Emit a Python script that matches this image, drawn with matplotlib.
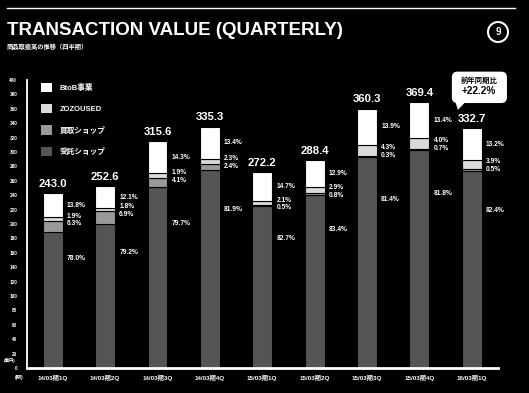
import numpy as np
import matplotlib

matplotlib.use("Agg")

import matplotlib.pyplot as plt  # noqa: E402
from matplotlib.patches import Patch, FancyBboxPatch, Polygon, Ellipse  # noqa: E402
from matplotlib.lines import Line2D  # noqa: E402

FONT = ["Liberation Sans", "Noto Sans CJK JP"]
plt.rcParams["font.family"] = FONT
plt.rcParams["font.weight"] = "bold"

# data
quarters = ["14/03期1Q", "14/03期2Q", "14/03期3Q", "14/03期4Q",
            "15/03期1Q", "15/03期2Q", "15/03期3Q", "15/03期4Q", "16/03期1Q"]
totals = [243.0, 252.6, 315.6, 335.3, 272.2, 288.4, 360.3, 369.4, 332.7]
pct_consign = [78.0, 79.2, 79.7, 81.9, 82.7, 83.4, 81.4, 81.8, 82.4]   # 受託ショップ
pct_buy = [6.3, 6.9, 4.1, 2.4, 0.5, 0.8, 0.3, 0.7, 0.5]               # 買取ショップ
pct_used = [1.9, 1.8, 1.9, 2.3, 2.1, 2.9, 4.3, 4.0, 3.9]              # ZOZOUSED
pct_btob = [13.8, 12.1, 14.3, 13.4, 14.7, 12.9, 13.9, 13.4, 13.2]     # BtoB事業
series_names = ["受託ショップ", "買取ショップ", "ZOZOUSED", "BtoB事業"]
yoy_text = "+22.2%"

colors = ["#555555", "#999999", "#dadada", "#ffffff"]
BG = "#000000"

tot = np.array(totals)
pcts = [np.array(p) for p in (pct_consign, pct_buy, pct_used, pct_btob)]
vals = [tot * p / 100.0 for p in pcts]
x = np.arange(len(quarters))
w = 0.38

fig = plt.figure(figsize=(5.29, 3.93), dpi=100)
fig.patch.set_facecolor(BG)
ax = fig.add_axes([27 / 529, 25 / 393, 471 / 529, 288 / 393])
ax.set_facecolor(BG)

bottom = np.zeros(len(x))
for v, c in zip(vals, colors):
    ax.bar(x, v, w, bottom=bottom, color=c, edgecolor=BG, linewidth=0.8, zorder=2)
    bottom = bottom + v

ax.set_xlim(-0.49, 8.5)
ax.set_ylim(0, 400)
ax.set_yticks(np.arange(0, 401, 20))
ax.tick_params(axis="y", length=0, pad=7, labelsize=3.3, colors="white")
ax.set_xticks(x)
ax.set_xticklabels(quarters)
ax.tick_params(axis="x", length=0, pad=5, labelsize=4.5, colors="white")
for lab in ax.get_xticklabels() + ax.get_yticklabels():
    lab.set_fontweight("bold")

for s in ("top", "right"):
    ax.spines[s].set_visible(False)
ax.spines["left"].set_color("white")
ax.spines["left"].set_linewidth(1.3)
ax.spines["bottom"].set_color("white")
ax.spines["bottom"].set_linewidth(2)

# unit labels
ax.text(-0.025, 10, "(億円)", transform=ax.get_yaxis_transform(), ha="right", va="center",
        fontsize=3.2, color="white")
ax.text(-0.008, -0.032, "(期)", transform=ax.transAxes, ha="right", va="center",
        fontsize=3.8, color="white")

# totals
for xi, t in zip(x, totals):
    ax.annotate(f"{t:.1f}", (xi, t), xytext=(0, 3), textcoords="offset points",
                ha="center", va="bottom", fontsize=8.2, color="white")

# percentage labels
cons_v, buy_v, used_v, btob_v = vals
for i in x:
    xr = i + w / 2
    top_used = cons_v[i] + buy_v[i] + used_v[i]
    ax.annotate(f"{pct_btob[i]:.1f}%", (xr, top_used + btob_v[i] / 2), xytext=(3, 0),
                textcoords="offset points", va="center", fontsize=4.8, color="white")
    ymid = top_used - used_v[i] / 2
    ax.annotate(f"{pct_used[i]:.1f}%", (xr, ymid), xytext=(3, 2),
                textcoords="offset points", va="center", fontsize=4.8, color="white")
    ax.annotate(f"{pct_buy[i]:.1f}%", (xr, ymid), xytext=(3, -3.5),
                textcoords="offset points", va="center", fontsize=4.8, color="white")
    ax.annotate(f"{pct_consign[i]:.1f}%", (xr, cons_v[i] * 0.8), xytext=(3, 0),
                textcoords="offset points", va="center", fontsize=4.8, color="white")

# legend
handles = [Patch(facecolor=c, edgecolor="none") for c in colors[::-1]]
leg = ax.legend(handles, series_names[::-1], loc="upper left", bbox_to_anchor=(0.03, 0.99),
                frameon=False, fontsize=5.5, handlelength=1.45, handleheight=1.45,
                labelspacing=1.6, handletextpad=0.95, borderpad=0, borderaxespad=0)
for t in leg.get_texts():
    t.set_color("white")
    t.set_fontweight("bold")

# year-on-year callout
asp = 471 / 288
box = FancyBboxPatch((0.902, 0.920), 0.117, 0.109, boxstyle="round,pad=0,rounding_size=0.012",
                     mutation_aspect=asp, transform=ax.transAxes, facecolor="white",
                     edgecolor="none", clip_on=False, zorder=5)
ax.add_patch(box)
ax.add_patch(Polygon([[0.909, 0.926], [0.932, 0.926], [0.915, 0.896]], closed=True,
                     transform=ax.transAxes, facecolor="white", edgecolor="none",
                     clip_on=False, zorder=5))
ax.text(0.960, 0.996, "前年同期比", transform=ax.transAxes, ha="center", va="center",
        fontsize=5.3, color="black", zorder=6)
ax.text(0.960, 0.963, yoy_text, transform=ax.transAxes, ha="center", va="center",
        fontsize=7.2, color="black", zorder=6)

# header
fig.add_artist(Line2D([7 / 529, 515 / 529], [1 - 7.5 / 393] * 2, color="white", lw=1))
fig.text(7 / 529, 1 - 35 / 393, "TRANSACTION VALUE (QUARTERLY)", fontsize=13.5,
         color="white", ha="left", va="baseline")
fig.text(7 / 529, 1 - 47 / 393, "商品取扱高の推移（四半期）", fontsize=4.5,
         color="white", ha="left", va="center")
fig.add_artist(Ellipse((498 / 529, 1 - 32 / 393), 20 / 529, 20 / 393, facecolor="none",
                       edgecolor="white", lw=1.5, transform=fig.transFigure))
fig.text(498 / 529, 1 - 32 / 393, "9", fontsize=7, color="white", ha="center", va="center")

fig.savefig("out.png", facecolor=BG)
plt.close(fig)
